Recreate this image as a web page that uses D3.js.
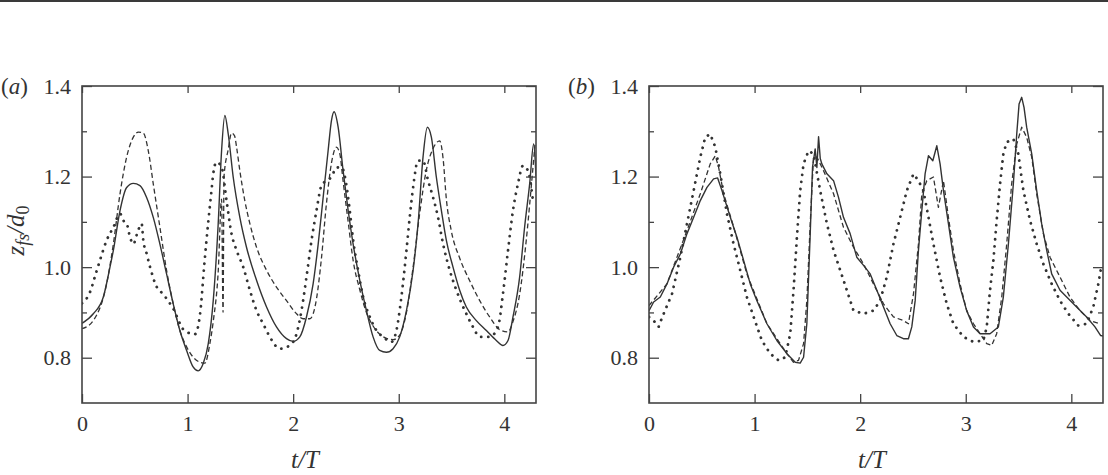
<!DOCTYPE html>
<html lang="en">
<head>
    <meta charset="UTF-8">
    <title>z_fs/d0 against t/T</title>
    <script src="https://cdn.jsdelivr.net/npm/d3@7/dist/d3.min.js"></script>
    <style>
        body{
            margin:0px;
            background:white;
        }
        svg text{
            font-family:"Liberation Serif","DejaVu Serif",serif;
            fill:#333;
        }
    </style>
</head>
<body>
    <svg id="fig" width="1108" height="475"></svg>
</body>
<script>
    // ticks
    let xTicks = [0, 1, 2, 3, 4];
    let yMajor = [0.8, 1.0, 1.2, 1.4];
    let yMinor = [0.9, 1.1, 1.3];
    let panelLabels = ['a', 'b'];

    // panel (a) : [t/T, z_fs/d0]
    let aSolid = [[0,0.876],[0.107,0.897],[0.202,0.934],[0.265,1.0],[0.297,1.037],[0.36,1.125],[0.423,1.176],[0.486,1.185],[0.549,1.18],[0.612,1.154],[0.675,1.11],[0.738,1.051],[0.801,0.985],[0.864,0.919],[0.927,0.86],[0.991,0.816],[1.054,0.779],[1.101,0.771],[1.148,0.787],[1.196,0.831],[1.243,0.926],[1.29,1.096],[1.322,1.257],[1.353,1.335],[1.385,1.294],[1.432,1.199],[1.495,1.11],[1.558,1.044],[1.653,0.971],[1.748,0.912],[1.842,0.868],[1.937,0.842],[2.0,0.836],[2.063,0.846],[2.126,0.89],[2.189,0.963],[2.237,1.051],[2.284,1.154],[2.331,1.257],[2.363,1.324],[2.388,1.343],[2.426,1.309],[2.473,1.213],[2.521,1.125],[2.568,1.051],[2.631,0.971],[2.694,0.904],[2.757,0.846],[2.82,0.816],[2.883,0.812],[2.946,0.82],[3.009,0.846],[3.073,0.904],[3.136,0.993],[3.183,1.096],[3.23,1.243],[3.271,1.309],[3.309,1.287],[3.356,1.199],[3.404,1.125],[3.451,1.059],[3.514,1.0],[3.577,0.949],[3.64,0.912],[3.735,0.882],[3.83,0.86],[3.924,0.838],[3.987,0.827],[4.035,0.838],[4.082,0.89],[4.145,0.978],[4.192,1.088],[4.24,1.184],[4.278,1.272],[4.3,1.2]];
    let aDashed = [[0,0.864],[0.107,0.882],[0.233,0.963],[0.297,1.051],[0.36,1.162],[0.423,1.243],[0.486,1.287],[0.533,1.298],[0.58,1.296],[0.628,1.257],[0.675,1.184],[0.738,1.088],[0.801,0.993],[0.864,0.919],[0.927,0.86],[0.991,0.824],[1.054,0.801],[1.117,0.79],[1.164,0.788],[1.211,0.831],[1.243,0.88],[1.29,0.99],[1.322,1.15],[1.336,0.9],[1.345,1.2],[1.385,1.26],[1.416,1.296],[1.445,1.29],[1.464,1.265],[1.495,1.213],[1.542,1.147],[1.59,1.096],[1.653,1.044],[1.748,0.993],[1.842,0.956],[1.937,0.926],[2.032,0.897],[2.095,0.886],[2.158,0.886],[2.221,0.93],[2.268,1.02],[2.315,1.14],[2.363,1.23],[2.41,1.265],[2.442,1.25],[2.473,1.19],[2.521,1.1],[2.568,1.015],[2.631,0.95],[2.694,0.9],[2.757,0.87],[2.82,0.852],[2.883,0.843],[2.946,0.84],[3.009,0.85],[3.073,0.9],[3.136,1.0],[3.199,1.12],[3.262,1.215],[3.325,1.262],[3.388,1.279],[3.42,1.24],[3.451,1.15],[3.498,1.08],[3.577,1.02],[3.672,0.97],[3.767,0.926],[3.861,0.89],[3.956,0.862],[4.035,0.857],[4.082,0.88],[4.145,0.94],[4.208,1.06],[4.256,1.18],[4.29,1.27]];
    let aDotted = [[0,0.92],[0.076,0.945],[0.13,0.985],[0.17,1.015],[0.233,1.059],[0.297,1.088],[0.36,1.118],[0.4,1.1],[0.423,1.096],[0.455,1.066],[0.486,1.051],[0.53,1.08],[0.565,1.096],[0.58,1.06],[0.612,1.03],[0.645,1.0],[0.7,0.96],[0.77,0.94],[0.86,0.91],[0.97,0.86],[1.07,0.852],[1.12,0.9],[1.16,1.01],[1.196,1.1],[1.227,1.17],[1.243,1.206],[1.274,1.232],[1.322,1.221],[1.369,1.147],[1.416,1.074],[1.464,1.037],[1.527,1.0],[1.59,0.949],[1.653,0.904],[1.716,0.875],[1.779,0.846],[1.874,0.82],[1.968,0.827],[2.032,0.853],[2.079,0.904],[2.126,0.978],[2.174,1.059],[2.221,1.125],[2.268,1.18],[2.315,1.191],[2.363,1.199],[2.41,1.22],[2.46,1.22],[2.505,1.18],[2.536,1.125],[2.568,1.06],[2.615,0.993],[2.663,0.934],[2.726,0.89],[2.789,0.86],[2.852,0.846],[2.931,0.835],[2.978,0.86],[3.025,0.934],[3.073,1.037],[3.104,1.11],[3.136,1.176],[3.183,1.235],[3.23,1.235],[3.278,1.191],[3.325,1.154],[3.372,1.11],[3.42,1.051],[3.483,0.993],[3.546,0.949],[3.64,0.897],[3.703,0.868],[3.767,0.846],[3.861,0.846],[3.94,0.868],[3.987,0.941],[4.035,1.037],[4.082,1.125],[4.129,1.184],[4.177,1.224],[4.224,1.213],[4.271,1.147]];

    // panel (b)
    let bSolid = [[0,0.904],[0.044,0.923],[0.107,0.934],[0.17,0.963],[0.233,1.0],[0.297,1.029],[0.36,1.074],[0.423,1.11],[0.486,1.147],[0.549,1.176],[0.612,1.195],[0.65,1.197],[0.691,1.169],[0.77,1.11],[0.833,1.066],[0.896,1.015],[0.959,0.963],[1.022,0.926],[1.117,0.875],[1.211,0.838],[1.306,0.809],[1.385,0.79],[1.432,0.788],[1.464,0.801],[1.495,0.875],[1.527,1.074],[1.549,1.221],[1.574,1.261],[1.59,1.22],[1.606,1.288],[1.622,1.24],[1.637,1.228],[1.685,1.206],[1.748,1.191],[1.795,1.154],[1.842,1.11],[1.905,1.074],[1.968,1.022],[2.032,1.004],[2.095,0.985],[2.158,0.949],[2.221,0.912],[2.284,0.875],[2.347,0.849],[2.41,0.842],[2.457,0.842],[2.489,0.868],[2.521,0.926],[2.552,1.037],[2.584,1.125],[2.615,1.206],[2.647,1.246],[2.688,1.235],[2.726,1.268],[2.757,1.228],[2.789,1.169],[2.836,1.096],[2.883,1.022],[2.946,0.956],[3.009,0.904],[3.073,0.868],[3.136,0.853],[3.23,0.853],[3.309,0.868],[3.356,0.934],[3.404,1.051],[3.451,1.184],[3.483,1.294],[3.505,1.36],[3.53,1.375],[3.552,1.353],[3.577,1.309],[3.625,1.25],[3.672,1.169],[3.719,1.096],[3.767,1.037],[3.814,0.985],[3.893,0.949],[3.956,0.934],[4.05,0.912],[4.145,0.89],[4.224,0.868],[4.278,0.849],[4.3,0.848]];
    let bDashed = [[0,0.915],[0.17,0.963],[0.36,1.081],[0.486,1.162],[0.58,1.228],[0.628,1.246],[0.659,1.221],[0.707,1.162],[0.8,1.09],[0.927,0.985],[1.117,0.875],[1.306,0.809],[1.369,0.79],[1.416,0.794],[1.464,0.831],[1.495,0.926],[1.527,1.096],[1.558,1.243],[1.59,1.243],[1.653,1.213],[1.748,1.162],[1.842,1.088],[1.937,1.044],[2.032,1.007],[2.126,0.963],[2.221,0.919],[2.315,0.89],[2.41,0.882],[2.457,0.875],[2.505,0.941],[2.552,1.051],[2.584,1.162],[2.631,1.191],[2.694,1.199],[2.741,1.132],[2.789,1.191],[2.836,1.11],[2.883,1.037],[2.946,0.963],[3.009,0.904],[3.073,0.875],[3.136,0.853],[3.199,0.831],[3.246,0.827],[3.293,0.853],[3.341,0.934],[3.388,1.051],[3.435,1.184],[3.483,1.272],[3.53,1.309],[3.577,1.287],[3.625,1.243],[3.672,1.162],[3.735,1.074],[3.798,1.022],[3.893,0.978],[3.987,0.934],[4.082,0.904],[4.177,0.882],[4.271,0.875]];
    let bDotted = [[0,0.89],[0.044,0.882],[0.091,0.868],[0.126,0.89],[0.218,0.941],[0.297,1.022],[0.36,1.096],[0.423,1.169],[0.486,1.243],[0.533,1.287],[0.58,1.294],[0.628,1.265],[0.675,1.206],[0.738,1.118],[0.801,1.051],[0.864,0.993],[0.927,0.934],[0.991,0.89],[1.069,0.838],[1.148,0.809],[1.227,0.794],[1.29,0.801],[1.338,0.853],[1.369,0.949],[1.401,1.066],[1.432,1.169],[1.464,1.228],[1.511,1.257],[1.558,1.25],[1.621,1.169],[1.685,1.096],[1.748,1.037],[1.811,0.993],[1.874,0.949],[1.937,0.904],[2.032,0.897],[2.126,0.904],[2.189,0.926],[2.252,0.978],[2.315,1.051],[2.379,1.11],[2.442,1.169],[2.505,1.206],[2.552,1.191],[2.599,1.169],[2.647,1.11],[2.694,1.051],[2.757,0.978],[2.82,0.919],[2.883,0.875],[2.978,0.846],[3.073,0.835],[3.167,0.838],[3.199,0.868],[3.23,0.949],[3.262,1.015],[3.293,1.103],[3.325,1.184],[3.356,1.25],[3.388,1.276],[3.451,1.283],[3.498,1.25],[3.546,1.169],[3.609,1.103],[3.672,1.051],[3.735,1.007],[3.814,0.963],[3.893,0.926],[3.972,0.897],[4.066,0.871],[4.145,0.875],[4.208,0.912],[4.256,0.963],[4.278,0.993]];

    let svg = d3.select('#fig');
    let ink = '#333';
    let serif = '"Liberation Serif","DejaVu Serif",serif';

    // filet du haut
    svg.append('rect').attr('x',0).attr('y',0).attr('width',1108).attr('height',2).attr('fill','#3a3a3a');

    let plotW = 454, plotH = 317, plotTop = 86;

    function drawPanel(left, label, series, curve, idx){
        let x = d3.scaleLinear().domain([0, 4.3]).range([0, plotW]);
        let y = d3.scaleLinear().domain([0.7, 1.4]).range([plotH, 0]);
        let g = svg.append('g').attr('transform','translate('+left+','+plotTop+')');

        g.append('clipPath').attr('id','clip'+idx)
            .append('rect').attr('width',plotW).attr('height',plotH);

        // courbes
        let line = d3.line().x(d => x(d[0])).y(d => y(d[1])).curve(curve);
        let styles = [
            {dash:null, w:1.4, cap:'butt'},
            {dash:'5 3', w:1.3, cap:'butt'},
            {dash:'0.1 7', w:2.8, cap:'round'}
        ];
        let lines = g.append('g').attr('clip-path','url(#clip'+idx+')');
        series.forEach((s,i) => {
            lines.append('path').datum(s)
                .attr('d', line)
                .attr('fill','none')
                .attr('stroke', ink)
                .attr('stroke-width', styles[i].w)
                .attr('stroke-linecap', styles[i].cap)
                .attr('stroke-linejoin','round')
                .attr('stroke-dasharray', styles[i].dash);
        });

        // axes, ticks vers l'intérieur
        let fmt = d3.format('.1f');
        g.append('g').attr('class','ax').call(d3.axisLeft(y).tickValues(yMajor).tickFormat(fmt).tickSize(-10).tickSizeOuter(0).tickPadding(11));
        g.append('g').attr('class','ax').call(d3.axisLeft(y).tickValues(yMinor).tickFormat('').tickSize(-5).tickSizeOuter(0));
        g.append('g').attr('class','ax').attr('transform','translate('+plotW+',0)')
            .call(d3.axisRight(y).tickValues(yMajor).tickFormat('').tickSize(-10).tickSizeOuter(0));
        g.append('g').attr('class','ax').attr('transform','translate('+plotW+',0)')
            .call(d3.axisRight(y).tickValues(yMinor).tickFormat('').tickSize(-5).tickSizeOuter(0));
        g.append('g').attr('class','ax').attr('transform','translate(0,'+plotH+')')
            .call(d3.axisBottom(x).tickValues(xTicks).tickFormat(d3.format('d')).tickSize(-9).tickSizeOuter(0).tickPadding(12));
        g.append('g').attr('class','ax')
            .call(d3.axisTop(x).tickValues(xTicks).tickFormat('').tickSize(-7).tickSizeOuter(0));

        g.selectAll('.ax .domain').remove();
        g.selectAll('.ax line').attr('stroke','#444').attr('stroke-width',1.3);
        g.selectAll('.ax text').attr('font-size','22px').attr('fill',ink)
            .attr('font-family',serif);

        // cadre
        g.append('rect').attr('width',plotW).attr('height',plotH)
            .attr('fill','none').attr('stroke','#444').attr('stroke-width',1.6);

        // étiquette (a) / (b)
        let lab = g.append('text').attr('x',-81).attr('y',0).attr('dy','0.33em')
            .attr('font-size','23px');
        lab.append('tspan').text('(');
        lab.append('tspan').attr('font-style','italic').text(label);
        lab.append('tspan').text(')');

        // t/T
        g.append('text').attr('x',plotW/2 - 4).attr('y',plotH + 65)
            .attr('text-anchor','middle').attr('font-size','25px').attr('font-style','italic')
            .text('t/T');
        return g;
    }

    let gA = drawPanel(82, panelLabels[0], [aSolid, aDashed, aDotted], d3.curveMonotoneX, 0);
    drawPanel(649, panelLabels[1], [bSolid, bDashed, bDotted], d3.curveLinear, 1);

    // z_fs/d0 vertical
    let yl = gA.append('text')
        .attr('transform','translate(-58,'+(plotH/2 - 14)+') rotate(-90)')
        .attr('text-anchor','middle').attr('font-size','25px').attr('font-style','italic');
    yl.append('tspan').text('z');
    yl.append('tspan').attr('font-size','18px').attr('dy',5).text('fs');
    yl.append('tspan').attr('dy',-5).text('/d');
    yl.append('tspan').attr('font-size','18px').attr('font-style','normal').attr('dy',5).text('0');
</script>
</html>
